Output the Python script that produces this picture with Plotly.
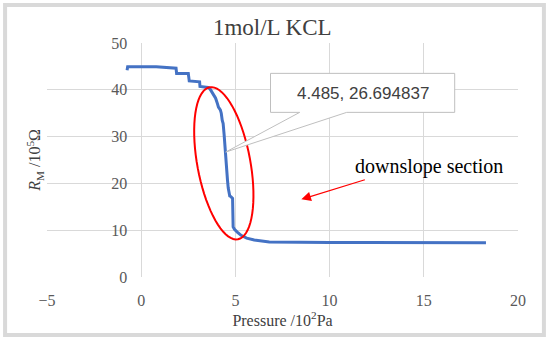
import numpy as np
import plotly.graph_objects as go

# ---- data ----
pressure = [-0.75, -0.72, 0.8, 1.85, 1.88, 2.5, 2.55, 3.1, 3.12, 3.55, 3.65, 3.82, 3.95,
            4.05, 4.1, 4.2, 4.25, 4.3, 4.35, 4.4, 4.44, 4.485, 4.52, 4.55, 4.58, 4.62,
            4.66, 4.7, 4.75, 4.85, 4.88, 4.95, 5.1, 5.3, 5.6, 6.0, 6.8, 8.4, 10, 12, 15, 18.3]
resistance = [44.2, 44.9, 44.9, 44.6, 43.5, 43.5, 41.9, 41.7, 40.7, 40.5, 40.2, 39.2, 38.2,
              37.0, 36.3, 35.7, 35.0, 33.5, 32.8, 30.5, 27.8, 26.694837, 25.0, 22.0, 20.7, 19.0,
              17.5, 17.3, 17.2, 16.8, 10.7, 10.2, 9.6, 8.9, 8.3, 7.9, 7.5, 7.4, 7.35, 7.35, 7.3, 7.3]
x_ticks = [-5, 0, 5, 10, 15, 20]
y_ticks = [0, 10, 20, 30, 40, 50]
callout_point = (4.485, 26.694837)
callout_text = "4.485, 26.694837"
ellipse_center = (4.385, 24.3)
arrow_tip = (8.5, 16.6)
note_pos = (15.3, 23.6)

serif = "Liberation Serif, Times New Roman, serif"

fig = go.Figure()
fig.add_trace(go.Scatter(x=pressure, y=resistance, mode="lines",
                         line=dict(color="#4472C4", width=3), showlegend=False,
                         hoverinfo="skip"))

# ellipse path (pixel units relative to centre)
a, b = 77.3, 26.5
u = np.array([0.183, 0.983])
n = np.array([0.983, -0.183])
t = np.linspace(0, 2 * np.pi, 73)
pts = [a * np.cos(tt) * u + b * np.sin(tt) * n for tt in t]
path = "M " + " L ".join(f"{p[0]:.2f},{-p[1]:.2f}" for p in pts) + " Z"

# callout box path (pixel units relative to data point)
bl, br, bt, bb, w1, w2 = 44.8, 229, 78.7, 39.7, 74, 121
cpath = (f"M {bl},{bt} L {br},{bt} L {br},{bb} L {w2},{bb} L 0,0 "
         f"L {w1},{bb} L {bl},{bb} Z")

shapes = [
    dict(type="path", path=path, xref="x", yref="y", xsizemode="pixel", ysizemode="pixel",
         xanchor=ellipse_center[0], yanchor=ellipse_center[1],
         line=dict(color="#FF0000", width=2)),
    dict(type="path", path=cpath, xref="x", yref="y", xsizemode="pixel", ysizemode="pixel",
         xanchor=callout_point[0], yanchor=callout_point[1],
         fillcolor="white", line=dict(color="#BFBFBF", width=1)),
    dict(type="rect", xref="paper", yref="paper", x0=-0.089, x1=1.055, y0=-0.248, y1=1.162,
         line=dict(color="#D9D9D9", width=4), fillcolor="rgba(0,0,0,0)", layer="above"),
]

annotations = [
    dict(x=callout_point[0], y=callout_point[1], xref="x", yref="y", xshift=137, yshift=59,
         text=callout_text, showarrow=False,
         font=dict(family="Liberation Sans, Arial, sans-serif", size=17, color="#404040")),
    dict(x=arrow_tip[0], y=arrow_tip[1], xref="x", yref="y", ax=65, ay=-20, text="",
         showarrow=True, arrowhead=2, arrowsize=1.6, arrowwidth=1.2, arrowcolor="#FF0000"),
    dict(x=note_pos[0], y=note_pos[1], xref="x", yref="y", text="downslope section",
         showarrow=False, font=dict(family=serif, size=20, color="black")),
    dict(x=-0.026, y=0.5, xref="paper", yref="paper", textangle=-90,
         xanchor="center", yanchor="middle",
         text="<i>R</i><sub>M</sub> /10<sup>5</sup>Ω", showarrow=False,
         font=dict(family=serif, size=16, color="#404040")),
]

fig.update_layout(
    width=550, height=339,
    margin=dict(l=47, r=32, t=43, b=62, autoexpand=False),
    paper_bgcolor="white", plot_bgcolor="white",
    title=dict(text="1mol/L KCL", x=0.495, xanchor="center", y=1 - 27 / 339, yanchor="middle",
               font=dict(family=serif, size=23, color="#404040")),
    shapes=shapes, annotations=annotations,
    xaxis=dict(range=[-5, 20], tickvals=x_ticks, showgrid=True, gridcolor="#D9D9D9",
               gridwidth=1, zeroline=False, showline=False, ticks="", automargin=False,
               ticklabelstandoff=12,
               tickfont=dict(family=serif, size=16, color="#595959"),
               title=dict(text="Pressure /10<sup>2</sup>Pa", standoff=5,
                          font=dict(family=serif, size=16, color="#404040"))),
    yaxis=dict(range=[0, 50], tickvals=y_ticks, showgrid=True, gridcolor="#D9D9D9",
               gridwidth=1, zeroline=False, showline=False, ticks="", automargin=False,
               anchor="free", position=0.2, ticklabelstandoff=14,
               tickfont=dict(family=serif, size=16, color="#595959")),
)

fig.write_html("out.html", config={"displayModeBar": False},
               post_script="document.body.style.margin='0';")
